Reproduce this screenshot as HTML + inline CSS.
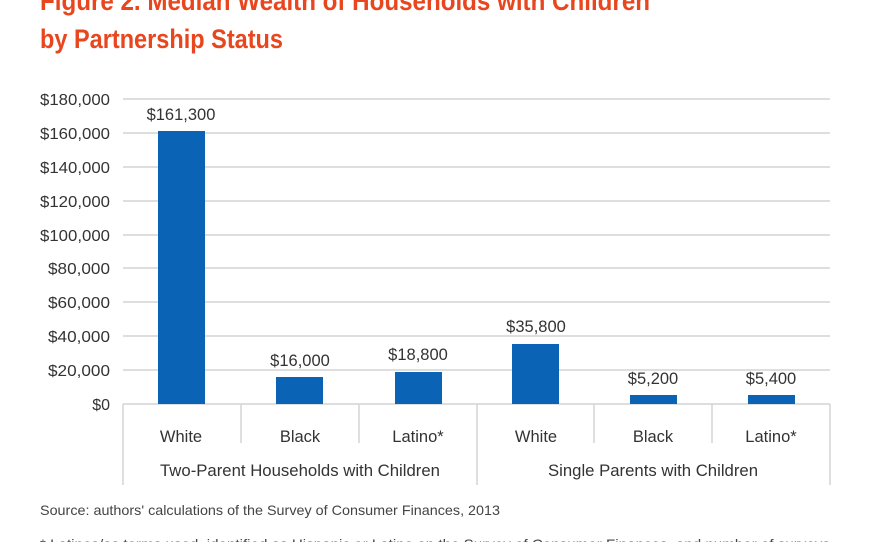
<!DOCTYPE html>
<html><head><style>
body{margin:0;background:#fff;width:880px;height:542px;overflow:hidden;}
</style></head><body>
<svg width="880" height="542" xmlns="http://www.w3.org/2000/svg" font-family="Liberation Sans, sans-serif">
<text x="40" y="10" font-size="27" font-weight="bold" fill="#e8461e" textLength="610" lengthAdjust="spacingAndGlyphs">Figure 2. Median Wealth of Households with Children</text>
<text x="40" y="48" font-size="27" font-weight="bold" fill="#e8461e" textLength="243" lengthAdjust="spacingAndGlyphs">by Partnership Status</text>
<g stroke="#d4d4d4" stroke-width="1.5">
<line x1="123" x2="830" y1="99" y2="99"/>
<line x1="123" x2="830" y1="133" y2="133"/>
<line x1="123" x2="830" y1="167" y2="167"/>
<line x1="123" x2="830" y1="201" y2="201"/>
<line x1="123" x2="830" y1="235" y2="235"/>
<line x1="123" x2="830" y1="268" y2="268"/>
<line x1="123" x2="830" y1="302" y2="302"/>
<line x1="123" x2="830" y1="336" y2="336"/>
<line x1="123" x2="830" y1="370" y2="370"/>
<line x1="123" x2="830" y1="404" y2="404"/>
<line x1="123" x2="123" y1="404" y2="485"/>
<line x1="830" x2="830" y1="404" y2="485"/>
<line x1="477" x2="477" y1="404" y2="485"/>
<line x1="241" x2="241" y1="404" y2="443"/>
<line x1="359" x2="359" y1="404" y2="443"/>
<line x1="594" x2="594" y1="404" y2="443"/>
<line x1="712" x2="712" y1="404" y2="443"/>
</g>
<g font-size="16" fill="#333" text-anchor="end">
<text x="110" y="105" textLength="70" lengthAdjust="spacingAndGlyphs">$180,000</text>
<text x="110" y="139" textLength="70" lengthAdjust="spacingAndGlyphs">$160,000</text>
<text x="110" y="173" textLength="70" lengthAdjust="spacingAndGlyphs">$140,000</text>
<text x="110" y="207" textLength="70" lengthAdjust="spacingAndGlyphs">$120,000</text>
<text x="110" y="241" textLength="70" lengthAdjust="spacingAndGlyphs">$100,000</text>
<text x="110" y="274" textLength="62" lengthAdjust="spacingAndGlyphs">$80,000</text>
<text x="110" y="308" textLength="62" lengthAdjust="spacingAndGlyphs">$60,000</text>
<text x="110" y="342" textLength="62" lengthAdjust="spacingAndGlyphs">$40,000</text>
<text x="110" y="376" textLength="62" lengthAdjust="spacingAndGlyphs">$20,000</text>
<text x="110" y="410">$0</text>
</g>
<g fill="#0a63b5">
<rect x="158" y="131" width="47" height="273"/>
<rect x="276" y="377" width="47" height="27"/>
<rect x="395" y="372" width="47" height="32"/>
<rect x="512" y="344" width="47" height="60"/>
<rect x="630" y="395" width="47" height="9"/>
<rect x="748" y="395" width="47" height="9"/>
</g>
<g font-size="16.5" fill="#333" text-anchor="middle">
<text x="181" y="120">$161,300</text>
<text x="300" y="366">$16,000</text>
<text x="418" y="360">$18,800</text>
<text x="536" y="332">$35,800</text>
<text x="653" y="384">$5,200</text>
<text x="771" y="384">$5,400</text>
<text x="181" y="442">White</text>
<text x="300" y="442">Black</text>
<text x="418" y="442">Latino*</text>
<text x="536" y="442">White</text>
<text x="653" y="442">Black</text>
<text x="771" y="442">Latino*</text>
<text x="300" y="476" textLength="280" lengthAdjust="spacingAndGlyphs">Two-Parent Households with Children</text>
<text x="653" y="476" textLength="210" lengthAdjust="spacingAndGlyphs">Single Parents with Children</text>
</g>
<text x="40" y="515" font-size="14" fill="#444" textLength="460" lengthAdjust="spacingAndGlyphs">Source: authors' calculations of the Survey of Consumer Finances, 2013</text>
<text x="40" y="549" font-size="14" fill="#444" textLength="790" lengthAdjust="spacingAndGlyphs">* Latinos/as terms used, identified as Hispanic or Latino on the Survey of Consumer Finances, and number of surveys</text>
</svg>
</body></html>
